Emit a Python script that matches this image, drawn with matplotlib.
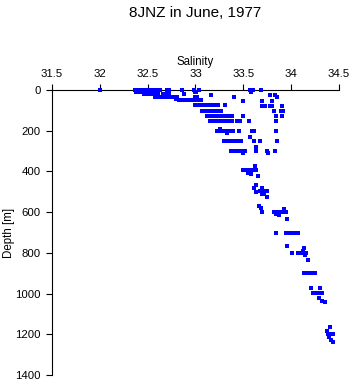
import matplotlib
matplotlib.use("Agg")
import matplotlib.pyplot as plt

plt.rcParams['font.family'] = ['Liberation Sans', 'DejaVu Sans']

title = "8JNZ in June, 1977"
x_label = "Salinity"
y_label = "Depth [m]"
x_ticks = [31.5, 32, 32.5, 33, 33.5, 34, 34.5]
x_tick_labels = ["31.5", "32", "32.5", "33", "33.5", "34", "34.5"]
y_ticks = [0, 200, 400, 600, 800, 1000, 1200, 1400]

# salinity / depth pairs
salinity = [
    # 0 m
    32.00, 32.37, 32.40, 32.43, 32.46, 32.49, 32.51, 32.54, 32.58, 32.61, 32.63, 32.70, 32.72,
    32.86, 32.98, 33.04, 33.57, 33.60, 33.68,
    # ~8 m
    32.38, 32.41, 32.44, 32.48, 32.51, 32.54, 32.57, 32.70, 32.99, 33.01, 33.58,
    # ~20 m
    32.46, 32.49, 32.52, 32.55, 32.58, 32.61, 32.66, 32.69, 32.72, 32.88, 33.16, 33.78, 33.83,
    # ~30 m
    32.58, 32.62, 32.66, 32.69, 32.72, 32.75, 32.78, 32.81, 33.00, 33.02, 33.40, 33.85,
    # ~45-50 m
    32.80, 32.83, 32.86, 32.89, 32.92, 32.95, 32.98, 33.01, 33.04, 33.06, 33.50, 33.70, 33.80,
    # 75 m
    33.00, 33.03, 33.06, 33.09, 33.12, 33.15, 33.18, 33.21, 33.24, 33.31, 33.70, 33.73, 33.78,
    33.80, 33.90,
    # 100 m
    33.07, 33.10, 33.13, 33.16, 33.19, 33.22, 33.25, 33.27, 33.82, 33.89, 33.91,
    # 125 m
    33.12, 33.15, 33.18, 33.21, 33.24, 33.27, 33.30, 33.33, 33.36, 33.38, 33.50, 33.84, 33.90,
    # 150 m
    33.15, 33.18, 33.21, 33.24, 33.27, 33.30, 33.33, 33.36, 33.38, 33.43, 33.46, 33.56, 33.84,
    # 200 m
    33.22, 33.25, 33.28, 33.31, 33.34, 33.37, 33.39, 33.45, 33.59, 33.61, 33.84, 33.26, 33.33,
    # 230 m
    33.57,
    # 250 m
    33.30, 33.33, 33.36, 33.39, 33.42, 33.45, 33.48, 33.61, 33.67, 33.85,
    # 280 m
    33.63,
    # 300 m
    33.37, 33.40, 33.43, 33.46, 33.49, 33.52, 33.63, 33.75, 33.83, 33.50, 33.76,
    # 375-425 m
    33.62, 33.50, 33.53, 33.55, 33.57, 33.59, 33.61, 33.63, 33.55, 33.58, 33.65,
    # 465-525 m
    33.63, 33.61, 33.70, 33.67, 33.69, 33.71, 33.73, 33.75, 33.63, 33.69, 33.72, 33.75,
    # 570-635 m
    33.66, 33.68, 33.70, 33.93, 33.82, 33.85, 33.88, 33.91, 33.95, 33.84, 33.87, 33.96,
    # 700 m
    33.84, 33.95, 33.98, 34.01, 34.04, 34.07,
    # 765-835 m
    33.96, 34.13, 34.01, 34.07, 34.10, 34.13, 34.16, 34.12, 34.14, 34.18,
    # 900 m
    34.13, 34.16, 34.19, 34.22, 34.25,
    # 970-1040 m
    34.21, 34.30, 34.23, 34.26, 34.29, 34.32, 34.29, 34.32, 34.35,
    # 1165-1240 m
    34.41, 34.37, 34.38, 34.41, 34.44, 34.40, 34.42, 34.44,
]

depth_m = [
    0, 0, 0, 0, 0, 0, 0, 0, 0, 0, 0, 0, 0,
    0, 0, 0, 0, 0, 0,
    8, 8, 8, 8, 8, 8, 8, 8, 8, 8, 10,
    22, 22, 22, 22, 22, 22, 22, 22, 22, 22, 25, 25, 25,
    32, 32, 32, 32, 32, 32, 32, 32, 34, 34, 33, 33,
    45, 48, 48, 48, 48, 50, 50, 50, 50, 50, 52, 52, 52,
    75, 75, 75, 75, 75, 75, 75, 75, 75, 75, 77, 77, 77,
    77, 77,
    103, 103, 103, 103, 103, 103, 103, 103, 103, 103, 103,
    128, 128, 128, 128, 128, 128, 128, 128, 128, 128, 128, 128, 128,
    151, 151, 151, 151, 151, 151, 151, 151, 151, 151, 151, 151, 151,
    200, 200, 200, 200, 200, 200, 200, 200, 200, 200, 200, 192, 210,
    229,
    250, 250, 250, 250, 250, 250, 250, 250, 250, 250,
    278,
    298, 298, 298, 298, 298, 298, 298, 298, 298, 310, 310,
    373, 395, 395, 395, 395, 395, 395, 395, 410, 415, 422,
    467, 481, 481, 496, 496, 496, 496, 496, 501, 511, 511, 526,
    568, 580, 600, 585, 600, 600, 600, 600, 600, 610, 615, 635,
    703, 703, 703, 703, 703, 703,
    766, 776, 801, 801, 801, 801, 801, 790, 810, 835,
    900, 900, 900, 900, 900,
    971, 971, 999, 999, 999, 999, 1020, 1035, 1041,
    1166, 1184, 1199, 1199, 1199, 1212, 1228, 1240,
]

W, H = 353, 384
fig = plt.figure(figsize=(W / 100, H / 100), dpi=100)
ax = fig.add_axes([52 / W, 1 - 375 / H, (339 - 52) / W, (375 - 90) / H])

ax.plot(salinity, depth_m, linestyle='none', marker='s', markersize=2.2,
        markeredgewidth=0, color='#0000ff', clip_on=False, zorder=3)

ax.set_xlim(31.5, 34.5)
ax.set_ylim(1400, 0)
ax.xaxis.tick_top()
ax.xaxis.set_label_position('top')
ax.set_xticks(x_ticks)
ax.set_xticklabels(x_tick_labels)
ax.set_yticks(y_ticks)
ax.tick_params(axis='both', labelsize=8.2, length=4, width=0.8, color='black')
ax.tick_params(axis='x', pad=4)
ax.tick_params(axis='y', pad=4)
ax.set_xlabel(x_label, fontsize=8.3, labelpad=3)
ax.set_ylabel(y_label, fontsize=8.3, va='center')
ax.yaxis.set_label_coords((9 - 52) / (339 - 52), 0.5)
for side in ['right', 'bottom']:
    ax.spines[side].set_visible(False)
for side in ['top', 'left']:
    ax.spines[side].set_linewidth(0.8)

fig.text((52 + 339) / 2 / W, 1 - 13 / H, title, ha='center', va='center', fontsize=11)

fig.savefig('out.png', dpi=100)
